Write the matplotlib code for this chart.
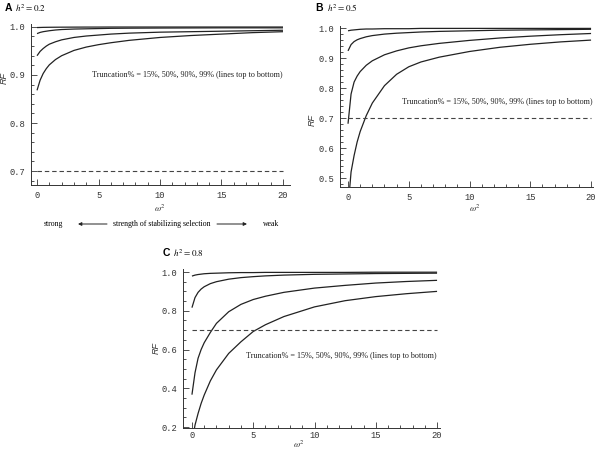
import matplotlib
matplotlib.use("Agg")
import matplotlib.pyplot as plt
from matplotlib.patches import FancyArrowPatch
from matplotlib.ticker import MultipleLocator, AutoMinorLocator, FormatStrFormatter

plt.rcParams['mathtext.fontset'] = 'stix'

W, H = 600, 451

# omega^2 values
omega2 = [0, 0.25, 0.5, 0.75, 1, 1.5, 2, 3, 4, 5, 6, 7.5, 10, 12.5, 15, 17.5, 20]

# panel A, h2 = 0.2 (truncation 15%, 50%, 90%, 99%)
rf_a = [
    [0.9986, 0.9988, 0.9990, 0.9991, 0.9992, 0.9993, 0.9994, 0.9995, 0.9996, 0.9996,
     0.9997, 0.9997, 0.9997, 0.9997, 0.9997, 0.9997, 0.9997],
    [0.986, 0.9885, 0.990, 0.991, 0.992, 0.9935, 0.9945, 0.9955, 0.996, 0.9965,
     0.997, 0.9973, 0.9976, 0.9978, 0.998, 0.998, 0.998],
    [0.940, 0.949, 0.955, 0.960, 0.964, 0.969, 0.973, 0.978, 0.981, 0.983,
     0.985, 0.987, 0.989, 0.990, 0.991, 0.992, 0.993],
    [0.868, 0.889, 0.903, 0.913, 0.921, 0.932, 0.940, 0.951, 0.958, 0.963,
     0.967, 0.972, 0.978, 0.982, 0.985, 0.988, 0.990],
]
# panel B, h2 = 0.5
rf_b = [
    [0.991, 0.993, 0.994, 0.995, 0.996, 0.997, 0.997, 0.998, 0.998, 0.998,
     0.999, 0.999, 0.999, 0.999, 0.999, 0.999, 0.999],
    [0.924, 0.945, 0.955, 0.961, 0.965, 0.971, 0.975, 0.980, 0.983, 0.985,
     0.987, 0.989, 0.991, 0.993, 0.994, 0.995, 0.996],
    [0.681, 0.780, 0.820, 0.840, 0.855, 0.876, 0.891, 0.911, 0.924, 0.934,
     0.941, 0.949, 0.959, 0.967, 0.973, 0.978, 0.982],
    [0.400, 0.520, 0.575, 0.620, 0.655, 0.708, 0.750, 0.808, 0.846, 0.871,
     0.887, 0.903, 0.922, 0.936, 0.946, 0.954, 0.960],
]
# panel C, h2 = 0.8
rf_c = [
    [0.979, 0.984, 0.987, 0.989, 0.991, 0.993, 0.994, 0.996, 0.997, 0.997,
     0.998, 0.998, 0.998, 0.998, 0.999, 0.999, 0.999],
    [0.816, 0.868, 0.895, 0.912, 0.924, 0.940, 0.950, 0.963, 0.971, 0.976,
     0.980, 0.984, 0.988, 0.990, 0.992, 0.993, 0.994],
    [0.367, 0.480, 0.555, 0.600, 0.635, 0.688, 0.735, 0.795, 0.833, 0.858,
     0.875, 0.895, 0.917, 0.931, 0.943, 0.951, 0.957],
    [0.120, 0.210, 0.270, 0.322, 0.365, 0.438, 0.495, 0.580, 0.640, 0.693,
     0.728, 0.770, 0.820, 0.852, 0.873, 0.888, 0.900],
]
threshold = 0.7
note = "Truncation% = 15%, 50%, 90%, 99% (lines top to bottom)"

mono = 'Liberation Mono'
serif = 'Liberation Serif'
sans = 'Liberation Sans'


def box(l, t, r, b):
    return [l / W, 1 - b / H, (r - l) / W, (b - t) / H]


def fx(x):
    return x / W


def fy(y):
    return 1 - y / H


fig = plt.figure(figsize=(6, 4.51), dpi=100)

panels = [
    # letter, h2, curves, axes box, xlim, ylim, y step, y minor, text pos, letter pos,
    # h2 pos, RF pos, w2 pos (bottom of text), x tick pad
    ('A', '0.2', rf_a, (31, 24, 290, 185), (-0.49, 20.57), (0.671, 1.006), 0.1, 5,
     (20, 0.9), (5, 8), (31, 8), (4, 78), (160, 214), 4),
    ('B', '0.5', rf_b, (340, 26, 593, 187), (-0.66, 20.16), (0.47, 1.007), 0.1, 5,
     (20.1, 0.753), (315, 8), (342, 8), (312, 120), (475, 214), 4),
    ('C', '0.8', rf_c, (183, 269, 440, 428), (-0.73, 20.24), (0.195, 1.0155), 0.2, 4,
     (20, 0.565), (163, 253), (188, 253), (156, 348), (299, 450), 2),
]

for (letter, h2, curves, bx, xl, yl, ystep, yminor, tpos, lpos, hpos, rpos, wpos,
     xpad) in panels:
    ax = fig.add_axes(box(*bx))
    for ys in curves:
        ax.plot(omega2, ys, color='#222222', lw=0.9, solid_capstyle='butt')
    ax.hlines(threshold, 0, 20, colors='#444444', lw=0.8, linestyles=(0, (4, 2.6)))
    ax.set_xlim(*xl)
    ax.set_ylim(*yl)
    for s in ['top', 'right']:
        ax.spines[s].set_visible(False)
    for s in ['left', 'bottom']:
        ax.spines[s].set_linewidth(0.7)
        ax.spines[s].set_color('#333333')
    ax.xaxis.set_major_locator(MultipleLocator(5))
    ax.xaxis.set_minor_locator(AutoMinorLocator(5))
    ax.yaxis.set_major_locator(MultipleLocator(ystep))
    ax.yaxis.set_minor_locator(AutoMinorLocator(yminor))
    ax.yaxis.set_major_formatter(FormatStrFormatter('%.1f'))
    ax.xaxis.set_major_formatter(FormatStrFormatter('%d'))
    ax.tick_params(which='both', direction='in', color='#333333', width=0.6,
                   labelsize=6.3, labelcolor='#333333', pad=4)
    ax.tick_params(axis='x', pad=xpad)
    ax.tick_params(which='major', length=4)
    ax.tick_params(which='minor', length=2)
    for lab in ax.get_xticklabels() + ax.get_yticklabels():
        lab.set_family(mono)
    ax.text(tpos[0], tpos[1], note, ha='right', va='center', family=serif,
            fontsize=5.85, color='#222222')

    fig.text(fx(lpos[0]), fy(lpos[1]), letter, ha='left', va='center', family=sans,
             fontweight='bold', fontsize=7.5)
    fig.text(fx(hpos[0]), fy(hpos[1]), r'$h^2 = %s$' % h2, ha='center', va='center',
             fontsize=6.5)
    fig.text(fx(rpos[0]), fy(rpos[1]), 'RF', ha='center', va='center', rotation=90,
             family=sans, style='italic', fontsize=6.5, color='#333333')
    fig.text(fx(wpos[0]), fy(wpos[1]), r'$\omega^2$', ha='center', va='bottom',
             fontsize=6.5, color='#333333')

# strength of stabilizing selection annotation below panel A
ty = fy(224)
fig.text(fx(53), ty, 'strong', ha='center', va='center', family=serif, fontsize=5.6)
fig.text(fx(162), ty, 'strength of stabilizing selection', ha='center', va='center',
         family=serif, fontsize=5.6)
fig.text(fx(271), ty, 'weak', ha='center', va='center', family=serif, fontsize=5.6)
for x0, x1 in [(107, 78), (217, 247)]:
    fig.add_artist(FancyArrowPatch((fx(x0), ty), (fx(x1), ty), transform=fig.transFigure,
                                   arrowstyle='-|>', mutation_scale=5, lw=0.7,
                                   color='#222222', shrinkA=0, shrinkB=0))

fig.savefig('out.png', dpi=100)
